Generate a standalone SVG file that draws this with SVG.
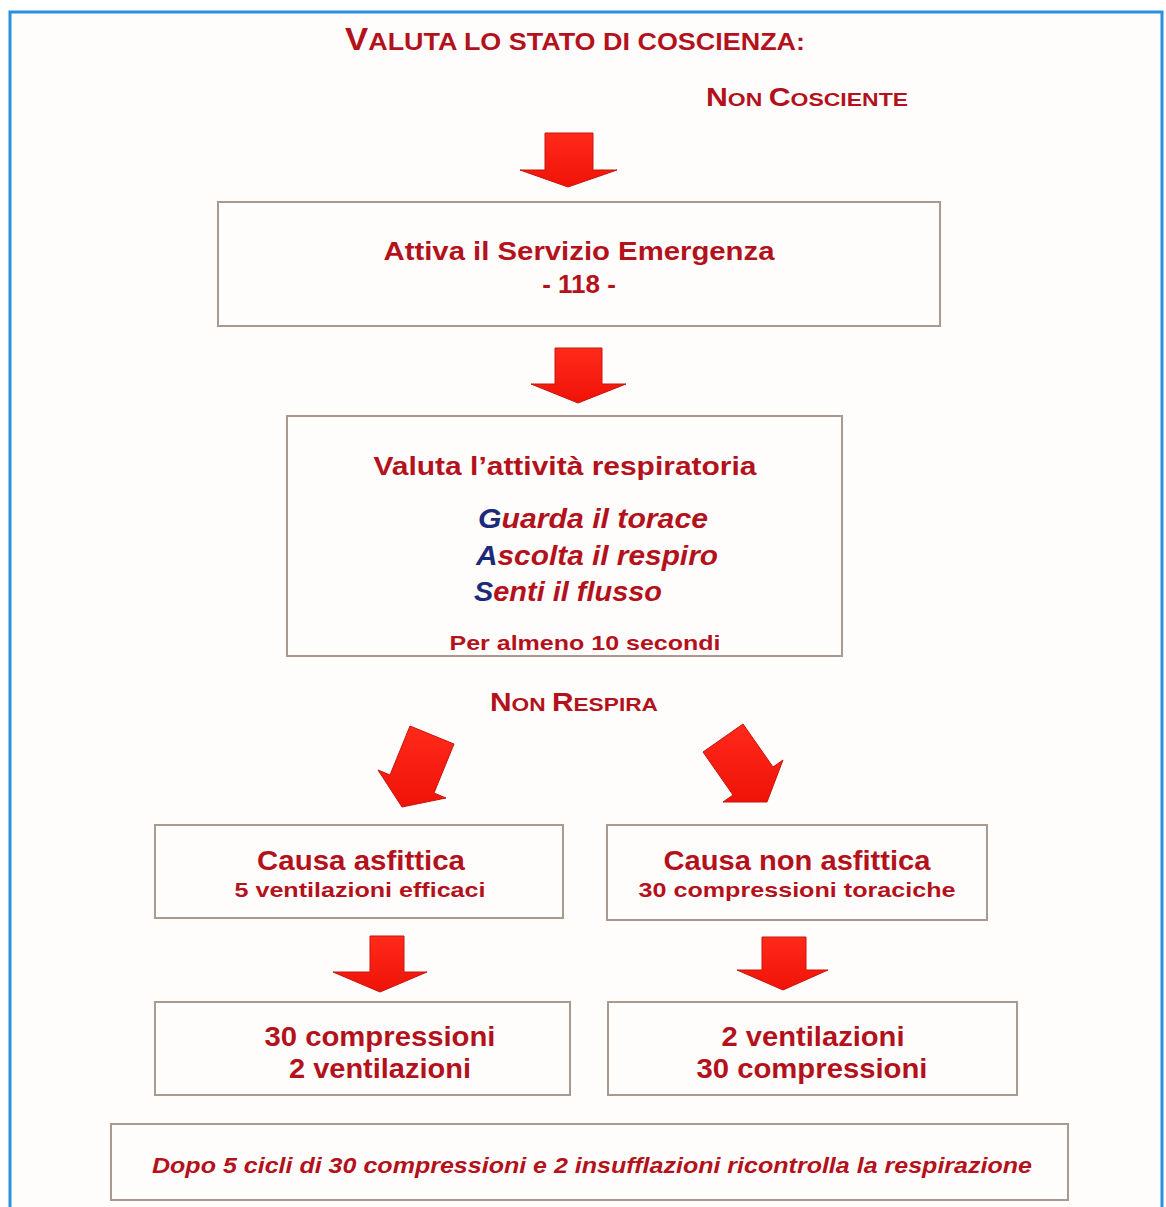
<svg xmlns="http://www.w3.org/2000/svg" width="1166" height="1207" viewBox="0 0 1166 1207">
<style>
.t{font-family:"Liberation Sans",Arial,sans-serif;font-weight:bold;fill:#b3121c;text-anchor:middle}
.s{text-anchor:start}
.i{font-style:italic}
.b{fill:#1c2a7a}
.box{fill:#fffdfb;stroke:#a9998f;stroke-width:2}
.arr{fill:url(#rg);stroke:#c5160e;stroke-width:1}
</style>
<defs>
<linearGradient id="rg" x1="0" y1="0" x2="0" y2="1">
<stop offset="0" stop-color="#ff2a1a"/>
<stop offset="1" stop-color="#f01208"/>
</linearGradient>
</defs>
<rect x="0" y="0" width="1166" height="1207" fill="#ffffff"/>
<rect x="10" y="12" width="1152" height="1220" fill="#fefdfc" stroke="#2a8fdc" stroke-width="3"/>

<g id="title">
<text class="t" x="575" y="50" textLength="460" lengthAdjust="spacingAndGlyphs" font-size="24"><tspan font-size="31">V</tspan>ALUTA LO STATO DI COSCIENZA:</text>
</g>
<g id="non-cosciente">
<text class="t" x="807" y="106" textLength="202" lengthAdjust="spacingAndGlyphs" font-size="19"><tspan font-size="25">N</tspan>ON <tspan font-size="25">C</tspan>OSCIENTE</text>
</g>

<g id="connectors">
<polygon class="arr" points="545,133 593,133 593,170 617,170 568,187 520,170 545,170"/>
<polygon class="arr" points="555,348 602,348 602,384 626,384 578,403 531,384 555,384"/>
<polygon class="arr" points="410,726 454,744 434,793 446,798 402,807 378,770 390,775"/>
<polygon class="arr" points="703,752 743,724 773,767 783,760 767,802 723,802 733,795"/>
<polygon class="arr" points="370,936 404,936 404,972 427,972 380,992 333,972 370,972"/>
<polygon class="arr" points="762,937 806,937 806,970 828,970 783,990 737,970 762,970"/>
</g>

<g id="attiva">
<rect class="box" x="218" y="202" width="722" height="124"/>
<text class="t" x="579" y="260" font-size="26" textLength="391" lengthAdjust="spacingAndGlyphs">Attiva il Servizio Emergenza</text>
<text class="t" x="579" y="293" font-size="26">- 118 -</text>
</g>

<g id="valuta-respiro">
<rect class="box" x="287" y="416" width="555" height="240"/>
<text class="t" x="565" y="475" font-size="26" textLength="383" lengthAdjust="spacingAndGlyphs">Valuta l’attività respiratoria</text>
<text class="t i s" x="478" y="528" font-size="27" textLength="230" lengthAdjust="spacingAndGlyphs"><tspan class="b">G</tspan>uarda il torace</text>
<text class="t i s" x="476" y="565" font-size="27" textLength="242" lengthAdjust="spacingAndGlyphs"><tspan class="b">A</tspan>scolta il respiro</text>
<text class="t i s" x="474" y="601" font-size="27" textLength="188" lengthAdjust="spacingAndGlyphs"><tspan class="b">S</tspan>enti il flusso</text>
<text class="t" x="585" y="650" font-size="21" textLength="271" lengthAdjust="spacingAndGlyphs">Per almeno 10 secondi</text>
</g>

<g id="non-respira">
<text class="t" x="574" y="711" textLength="168" lengthAdjust="spacingAndGlyphs" font-size="19"><tspan font-size="25">N</tspan>ON <tspan font-size="25">R</tspan>ESPIRA</text>
</g>

<g id="asfittica">
<rect class="box" x="155" y="825" width="408" height="93"/>
<text class="t" x="361" y="870" font-size="28" textLength="208" lengthAdjust="spacingAndGlyphs">Causa asfittica</text>
<text class="t" x="360" y="897" font-size="21" textLength="251" lengthAdjust="spacingAndGlyphs">5 ventilazioni efficaci</text>
</g>

<g id="non-asfittica">
<rect class="box" x="607" y="825" width="380" height="95"/>
<text class="t" x="797" y="870" font-size="28" textLength="267" lengthAdjust="spacingAndGlyphs">Causa non asfittica</text>
<text class="t" x="797" y="897" font-size="21" textLength="317" lengthAdjust="spacingAndGlyphs">30 compressioni toraciche</text>
</g>

<g id="cicli-asfittica">
<rect class="box" x="155" y="1002" width="415" height="93"/>
<text class="t" x="380" y="1046" font-size="28" textLength="231" lengthAdjust="spacingAndGlyphs">30 compressioni</text>
<text class="t" x="380" y="1078" font-size="28" textLength="182" lengthAdjust="spacingAndGlyphs">2 ventilazioni</text>
</g>

<g id="cicli-non-asfittica">
<rect class="box" x="608" y="1002" width="409" height="93"/>
<text class="t" x="813" y="1046" font-size="28" textLength="183" lengthAdjust="spacingAndGlyphs">2 ventilazioni</text>
<text class="t" x="812" y="1078" font-size="28" textLength="231" lengthAdjust="spacingAndGlyphs">30 compressioni</text>
</g>

<g id="ricontrolla">
<rect class="box" x="111" y="1124" width="957" height="76"/>
<text class="t i" x="592" y="1173" font-size="22" textLength="880" lengthAdjust="spacingAndGlyphs">Dopo 5 cicli di 30 compressioni e 2 insufflazioni ricontrolla la respirazione</text>
</g>
</svg>
